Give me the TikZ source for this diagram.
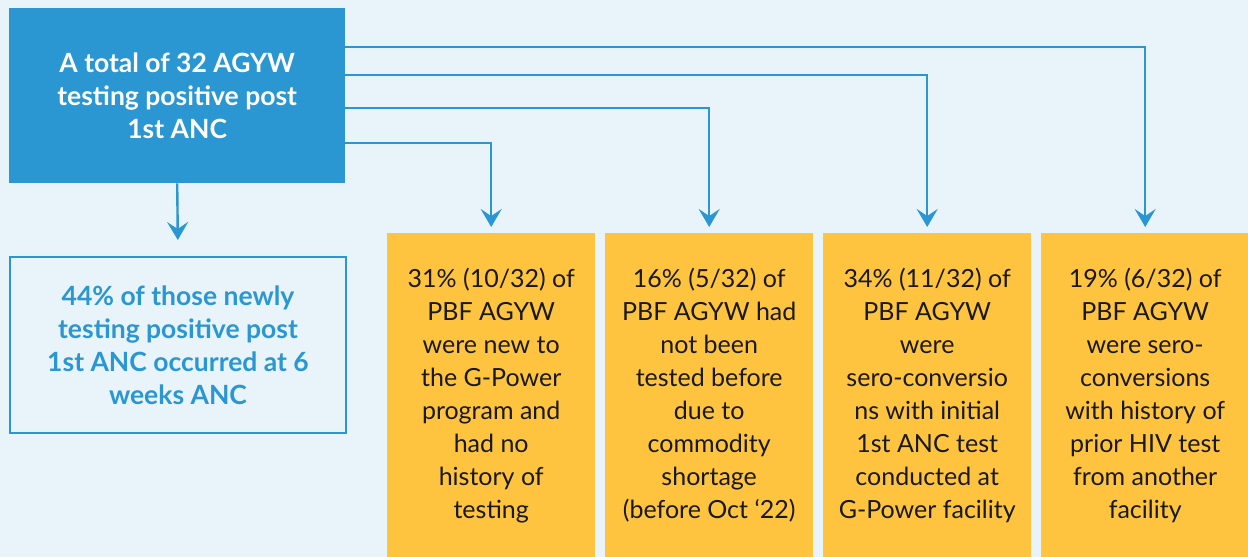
\documentclass[tikz,border=0pt]{standalone}
\usepackage{fontspec}
\setmainfont{Lato}
\usetikzlibrary{arrows.meta}
\definecolor{bgblue}{HTML}{E8F4FA}
\definecolor{boxblue}{HTML}{2A96D2}
\definecolor{boxyellow}{HTML}{FFC43F}
\tikzset{
  flowarrow/.style={draw=boxblue, line width=2.4pt, -{Stealth[length=18pt,width=21pt,inset=7pt]}},
  resultbox/.style={fill=boxyellow, anchor=north west, minimum width=208pt, minimum height=324pt,
    inner sep=0pt, align=center, text=black!90, font=\fontsize{25}{33}\selectfont},
}

\begin{document}
\begin{tikzpicture}[x=1pt,y=-1pt]
			%%%%% START %%%%%
			
			\fill[bgblue] (0,0) rectangle (1248,557);
			\useasboundingbox (0,0) rectangle (1248,557);
			
			\node[fill=boxblue, anchor=north west, minimum width=336pt, minimum height=175pt, inner sep=0pt,
			  align=center, text=white, font=\bfseries\fontsize{26.5}{33}\selectfont] (total) at (9,8)
			  {A total of 32 AGYW\\testing positive post\\1st ANC};
			
			\node[draw=boxblue, line width=2pt, anchor=north west, minimum width=336pt, minimum height=176pt, inner sep=0pt,
			  align=center, text=boxblue, font=\bfseries\fontsize{26.5}{33}\selectfont] (sixweeks) at (9,256)
			  {44\% of those newly\\testing positive post\\1st ANC occurred at 6\\weeks ANC};
			
			\node[resultbox] (newprog) at (387,233)
			  {31\% (10/32) of\\PBF AGYW\\were new to\\the G-Power\\program and\\had no\\history of\\testing};
			\node[resultbox] (nottested) at (605,233)
			  {16\% (5/32) of\\PBF AGYW had\\not been\\tested before\\due to\\commodity\\shortage\\(before Oct ‘22)};
			\node[resultbox] (gpower) at (823,233)
			  {34\% (11/32) of\\PBF AGYW\\were\\sero-conversio\\ns with initial\\1st ANC test\\conducted at\\G-Power facility};
			\node[resultbox] (otherfac) at (1041,233)
			  {19\% (6/32) of\\PBF AGYW\\were sero-\\conversions\\with history of\\prior HIV test\\from another\\facility};
			
			\coordinate (out1) at (345,47);
			\coordinate (out2) at (345,75);
			\coordinate (out3) at (345,108);
			\coordinate (out4) at (345,143);
			
			\draw[flowarrow, shorten >=16pt] (total.south) -- (sixweeks.north);
			\draw[flowarrow, shorten >=6pt] (out1) -| (otherfac.north);
			\draw[flowarrow, shorten >=6pt] (out2) -| (gpower.north);
			\draw[flowarrow, shorten >=6pt] (out3) -| (nottested.north);
			\draw[flowarrow, shorten >=6pt] (out4) -| (newprog.north);
			
			%%%%% END %%%%%
\end{tikzpicture}
\end{document}
